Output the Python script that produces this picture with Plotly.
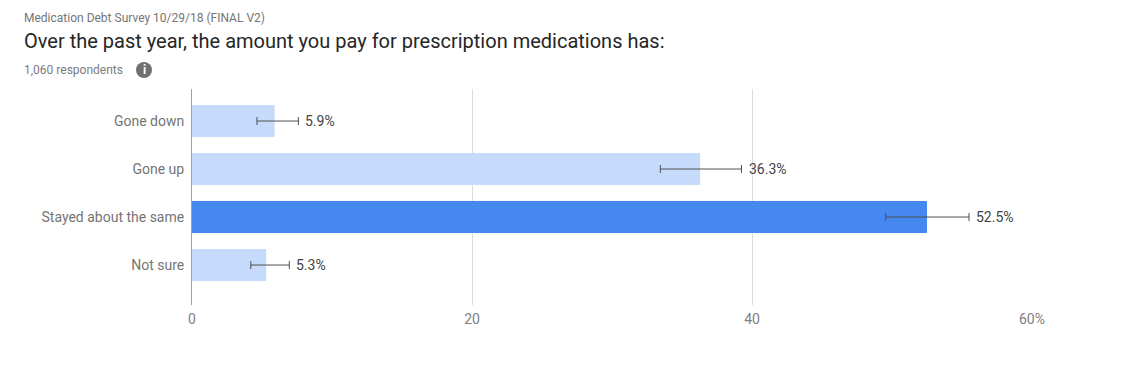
import plotly.graph_objects as go

categories = ["Gone down", "Gone up", "Stayed about the same", "Not sure"]
values = [5.9, 36.3, 52.5, 5.3]
err_low = [4.64, 33.45, 49.55, 4.2]
err_high = [7.6, 39.25, 55.5, 6.95]
labels = ["5.9%", "36.3%", "52.5%", "5.3%"]
bar_colors = ["#c6dafc", "#c6dafc", "#4589f0", "#c6dafc"]
x_ticks = [0, 20, 40, 60]
x_ticktext = ["0", "20", "40", "60%"]
survey = "Medication Debt Survey 10/29/18 (FINAL V2)"
title = "Over the past year, the amount you pay for prescription medications has:"
respondents = "1,060 respondents"

W, H = 1137, 382
L, R, T, B = 192, 105, 89, 77
FONT = "Roboto"

fig = go.Figure()
fig.add_trace(go.Bar(
    y=categories, x=values, orientation="h", width=0.667,
    marker=dict(color=bar_colors, line=dict(width=0), cornerradius=1),
    error_x=dict(type="data", symmetric=False,
                 array=[h - v for h, v in zip(err_high, values)],
                 arrayminus=[v - l for l, v in zip(err_low, values)],
                 color="#505050", thickness=1, width=4),
    hoverinfo="skip",
))
for cat, hi, lab in zip(categories, err_high, labels):
    fig.add_annotation(text=lab, x=hi, y=cat, xref="x", yref="y", xanchor="left",
                       yanchor="middle", xshift=5, yshift=0, showarrow=False,
                       font=dict(family=FONT, size=14, color="#424242"))


def px(x):
    return (x - L) / (W - L - R)


def py(y):
    return 1 - (y - T) / (H - T - B)


def note(text, x, y, size, color):
    fig.add_annotation(text=text, xref="paper", yref="paper", x=px(x), y=py(y),
                       xanchor="left", yanchor="middle", showarrow=False,
                       font=dict(family=FONT, size=size, color=color))


note(survey, 22, 18, 12, "#757575")
note(title, 22, 41, 20, "#262626")
note(respondents, 22, 70, 12, "#7c7c7c")
fig.add_shape(type="circle", xref="paper", yref="paper", x0=px(136), x1=px(152),
              y0=py(78), y1=py(62), fillcolor="#707070", line=dict(width=0))
fig.add_annotation(text="<b>i</b>", xref="paper", yref="paper", x=px(144), y=py(70),
                   xanchor="center", yanchor="middle", showarrow=False,
                   font=dict(family=FONT, size=12, color="#ffffff"))

fig.update_layout(
    width=W, height=H, autosize=False, showlegend=False,
    paper_bgcolor="white", plot_bgcolor="white",
    margin=dict(l=L, r=R, t=T, b=B, pad=0),
    xaxis=dict(range=[0, 60], tickvals=x_ticks, ticktext=x_ticktext,
               showgrid=True, gridcolor="#dcdcdc", gridwidth=1, zeroline=False,
               showline=False, ticks="outside", ticklen=1, tickcolor="rgba(0,0,0,0)",
               tickfont=dict(family=FONT, size=14, color="#808080")),
    yaxis=dict(categoryorder="array", categoryarray=categories, range=[3.833, -0.667],
               showgrid=False, zeroline=False, showline=True, linecolor="#9e9e9e", linewidth=1,
               ticks="outside", ticklen=4, tickcolor="rgba(0,0,0,0)",
               tickfont=dict(family=FONT, size=14, color="#757575")),
)
fig.write_html("out.html", config={"displayModeBar": False},
               post_script="document.body.style.margin='0';")
